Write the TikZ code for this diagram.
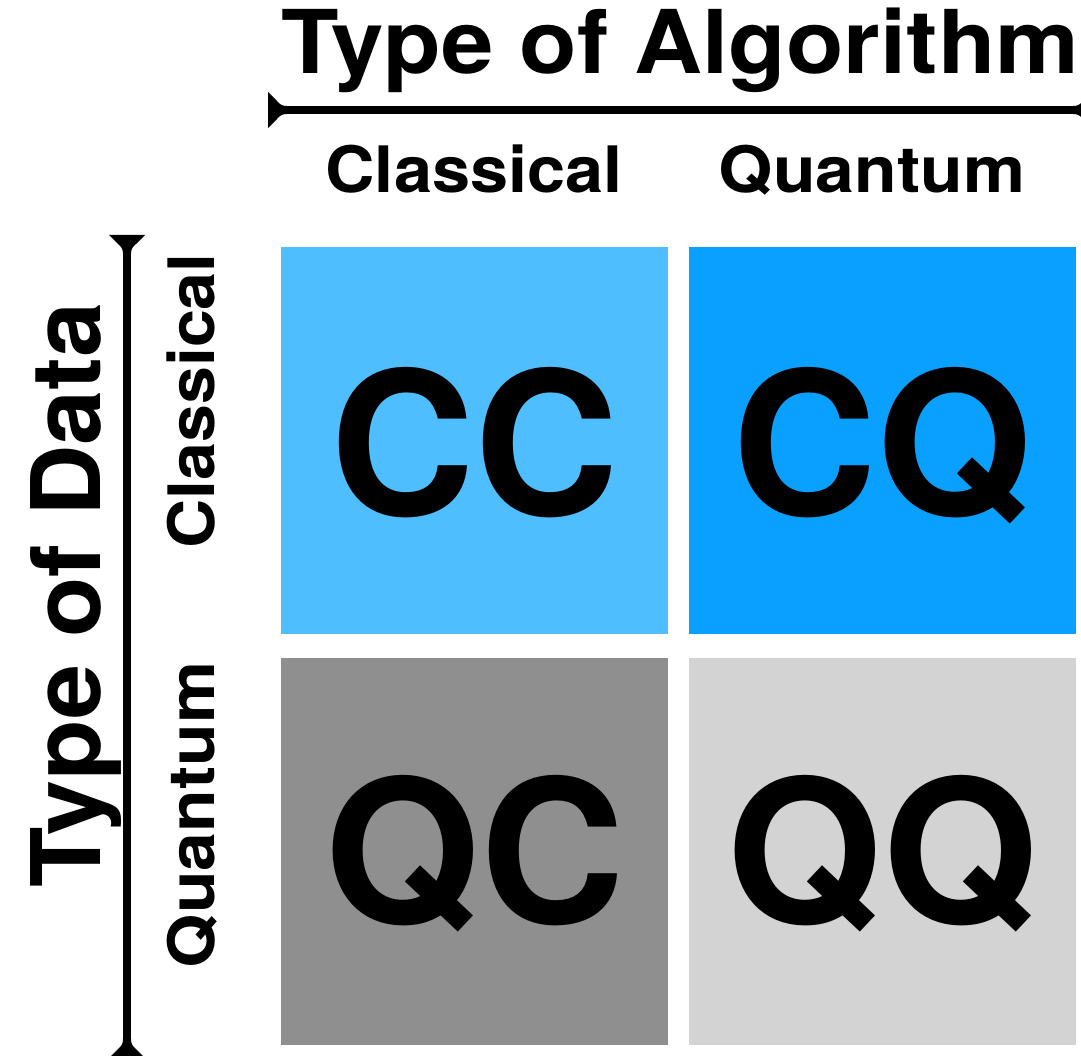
\documentclass[tikz,border=0pt]{standalone}
\usepackage{fontspec}
\usepackage{graphicx}
\setmainfont{TeX Gyre Heros}
\definecolor{ccblue}{HTML}{4EBEFF}
\definecolor{cqblue}{HTML}{0AA0FF}
\definecolor{qcgray}{HTML}{8F8F8F}
\definecolor{qqgray}{HTML}{D3D3D3}
\newcommand{\widen}[2][1.07]{\scalebox{#1}[1]{#2}}
\tikzset{
  axisline/.style={line width=8pt},
  cell/.style={minimum width=387pt, minimum height=387pt, inner sep=0pt, outer sep=0pt, font=\fontsize{200}{200}\selectfont\bfseries},
  axistitle/.style={inner sep=0pt, font=\fontsize{88}{88}\selectfont\bfseries},
  header/.style={inner sep=0pt, font=\fontsize{64}{64}\selectfont\bfseries},
  flare/.pic={
    \fill (0,-18) -- (0,18) -- (9,9) .. controls (12,5.5) and (14,4) .. (19,4)
      -- (19,-4) .. controls (14,-4) and (12,-5.5) .. (9,-9) -- cycle;
  }
}
\begin{document}
\begin{tikzpicture}[x=1pt, y=-1pt]
  \useasboundingbox (0,0) rectangle (1081,1056);
  \clip (0,0) rectangle (1081,1056);

  % cells of the 2x2 grid
  \node[cell, fill=ccblue, anchor=north west] (cc) at (281,247) {};
  \node[cell, fill=cqblue, anchor=north west] (cq) at (689,247) {};
  \node[cell, fill=qcgray, anchor=north west] (qc) at (281,658) {};
  \node[cell, fill=qqgray, anchor=north west] (qq) at (689,658) {};

  \node[cell, anchor=base] (cclbl) at ([yshift=-75pt]cc.center) {CC};
  \node[cell, anchor=base] (cqlbl) at ([yshift=-75pt]cq.center) {CQ};
  \node[cell, anchor=base] (qclbl) at ([yshift=-72pt]qc.center) {QC};
  \node[cell, anchor=base] (qqlbl) at ([yshift=-72pt]qq.center) {QQ};

  % algorithm axis
  \node[axistitle, anchor=base west] (algtitle) at (281,74) {\widen{Type of Algorithm}};
  \coordinate (hl) at (268,110);
  \coordinate (hr) at (1092,110);
  \draw[axisline] ([xshift=12pt]hl) -- ([xshift=-12pt]hr);
  \pic at (hl) {flare};
  \pic[rotate=180] at (hr) {flare};
  \node[header, anchor=base] (algc) at (474,193) {\widen[1.07]{Classical}};
  \node[header, anchor=base] (algq) at (872,193) {\widen[1.09]{Quantum}};

  % data axis
  \node[axistitle, anchor=base, rotate=90, font=\fontsize{96}{96}\selectfont\bfseries] (datatitle) at (100,595) {\widen[1.03]{Type of Data}};
  \coordinate (vt) at (127,235);
  \coordinate (vb) at (127,1058);
  \draw[axisline] ([yshift=-12pt]vt) -- ([yshift=12pt]vb);
  \pic[rotate=-90] at (vt) {flare};
  \pic[rotate=90] at (vb) {flare};
  \node[header, anchor=base, rotate=90] (datac) at (214,401) {\widen[1.065]{Classical}};
  \node[header, anchor=base, rotate=90] (dataq) at (214,815) {\widen[1.09]{Quantum}};
\end{tikzpicture}
\end{document}
